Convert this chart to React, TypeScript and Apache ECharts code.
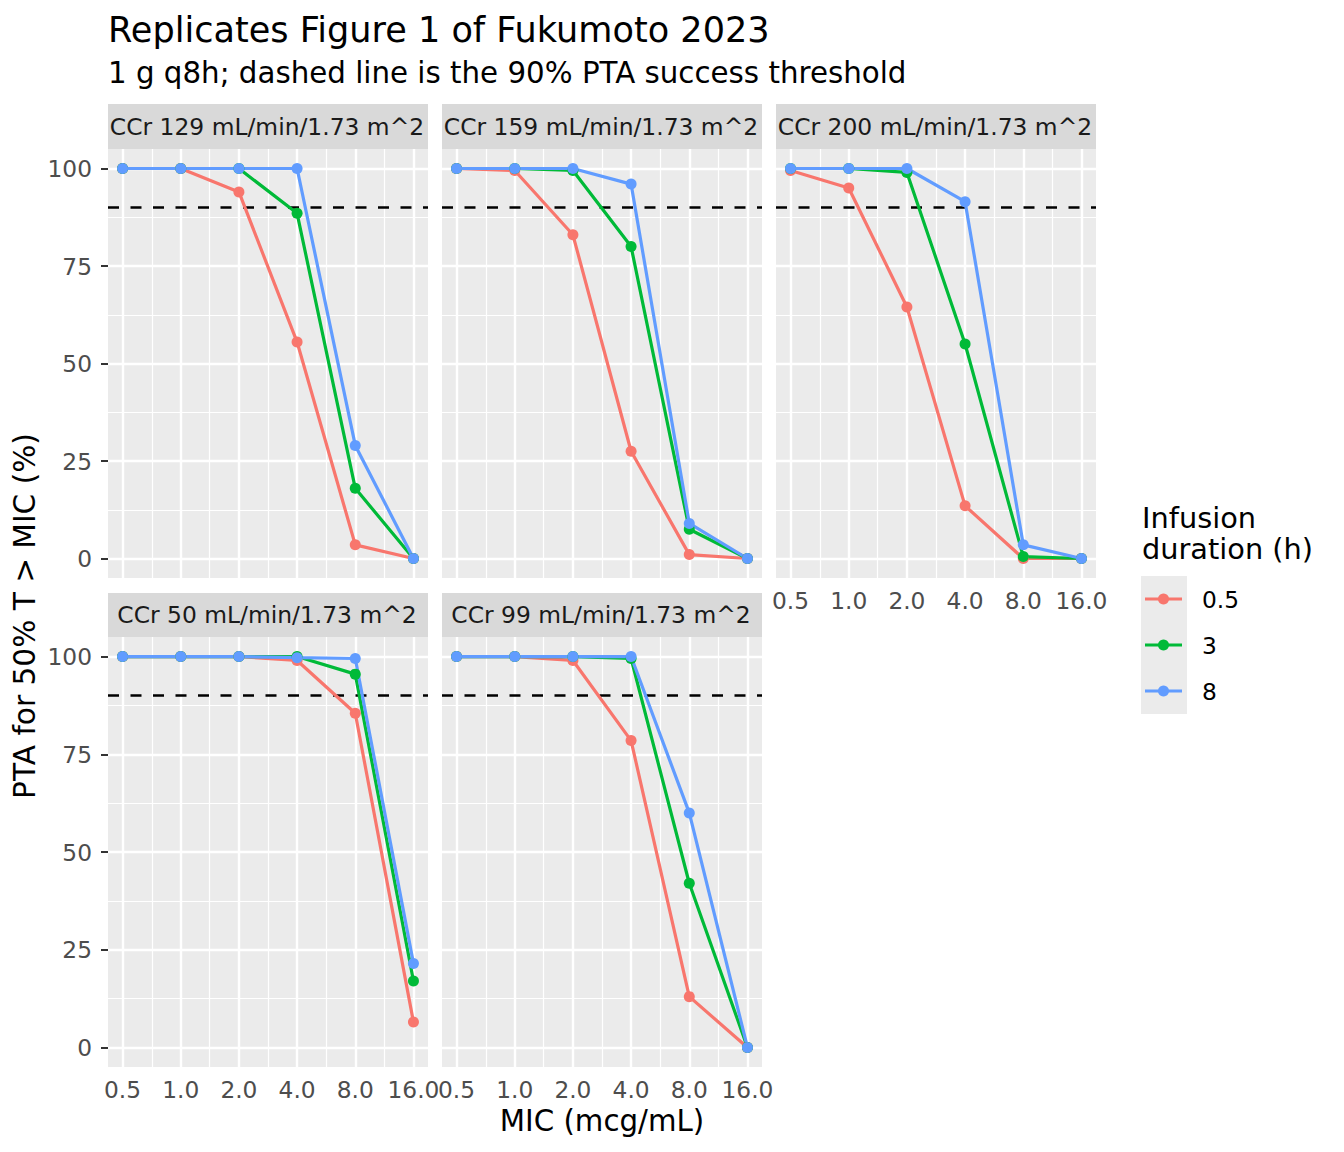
import React, { useEffect, useRef } from "react";
import * as echarts from "echarts";

// ---------- data ----------
const MIC = [0.5, 1, 2, 4, 8, 16];
const DURATIONS = ["0.5", "3", "8"];
const COLORS = ["#F8766D", "#00BA38", "#619CFF"];
const PANEL_LABELS = [
  "CCr 129 mL/min/1.73 m^2",
  "CCr 159 mL/min/1.73 m^2",
  "CCr 200 mL/min/1.73 m^2",
  "CCr 50 mL/min/1.73 m^2",
  "CCr 99 mL/min/1.73 m^2",
];

const ccr129_05 = [100, 100, 94, 55.5, 3.5, 0];
const ccr129_3 = [100, 100, 100, 88.5, 18, 0];
const ccr129_8 = [100, 100, 100, 100, 29, 0];

const ccr159_05 = [100, 99.5, 83, 27.5, 1, 0];
const ccr159_3 = [100, 100, 99.5, 80, 7.5, 0];
const ccr159_8 = [100, 100, 100, 96, 9, 0];

const ccr200_05 = [99.5, 95, 64.5, 13.5, 0, 0];
const ccr200_3 = [100, 100, 99, 55, 0.5, 0];
const ccr200_8 = [100, 100, 100, 91.5, 3.5, 0];

const ccr50_05 = [100, 100, 100, 99, 85.5, 6.5];
const ccr50_3 = [100, 100, 100, 100, 95.5, 17];
const ccr50_8 = [100, 100, 100, 99.7, 99.5, 21.5];

const ccr99_05 = [100, 100, 99, 78.5, 13, 0];
const ccr99_3 = [100, 100, 100, 99.5, 42, 0];
const ccr99_8 = [100, 100, 100, 100, 60, 0];

const PANEL_VALUES = [
  [ccr129_05, ccr129_3, ccr129_8],
  [ccr159_05, ccr159_3, ccr159_8],
  [ccr200_05, ccr200_3, ccr200_8],
  [ccr50_05, ccr50_3, ccr50_8],
  [ccr99_05, ccr99_3, ccr99_8],
];

const X_TICKS = MIC;
const Y_TICKS = [0, 25, 50, 75, 100];
const THRESHOLD = 90;

const TITLE = "Replicates Figure 1 of Fukumoto 2023";
const SUBTITLE = "1 g q8h; dashed line is the 90% PTA success threshold";
const X_TITLE = "MIC (mcg/mL)";
const Y_TITLE = "PTA for 50% T > MIC (%)";
const LEGEND_TITLE = "Infusion\nduration (h)";

// ---------- layout ----------
const FONT = "DejaVu Sans";
const COLS = [108, 442, 776];
const PANEL_W = 320;
const ROWS = [
  { strip: 104, stripH: 45, top: 149, h: 429 },
  { strip: 593, stripH: 44, top: 637, h: 430 },
];
const HAS_X = [false, false, true, true, true];
const HAS_Y = [true, false, false, true, false];

function buildOption() {
  const grid: any[] = [];
  const xAxis: any[] = [];
  const yAxis: any[] = [];
  const series: any[] = [];
  const graphic: any[] = [];

  const minorX = MIC.slice(0, -1).map((m, j) => Math.sqrt(m * MIC[j + 1]));
  const minorY = Y_TICKS.slice(0, -1).map((v, j) => (v + Y_TICKS[j + 1]) / 2);

  PANEL_LABELS.forEach((label, i) => {
    const r = ROWS[Math.floor(i / 3)];
    const left = COLS[i % 3];
    grid.push({
      left,
      top: r.top,
      width: PANEL_W,
      height: r.h,
      show: true,
      backgroundColor: "#EBEBEB",
      borderWidth: 0,
      containLabel: false,
      outerBoundsMode: "none",
    });
    xAxis.push({
      type: "log",
      logBase: 2,
      gridIndex: i,
      min: MIC[0] / Math.pow(2, 0.25),
      max: MIC[MIC.length - 1] * Math.pow(2, 0.25),
      axisLine: { show: false },
      axisTick: {
        show: HAS_X[i],
        customValues: X_TICKS,
        length: 7,
        lineStyle: { color: "#333333", width: 2 },
      },
      axisLabel: {
        show: HAS_X[i],
        customValues: X_TICKS,
        formatter: (v: number) => Number(v).toFixed(1),
        color: "#4D4D4D",
        fontSize: 23.3,
        fontFamily: FONT,
        margin: 11,
        hideOverlap: false,
      },
      splitLine: { show: false },
      minorTick: { show: false },
      minorSplitLine: { show: false },
    });
    yAxis.push({
      type: "value",
      gridIndex: i,
      min: -5,
      max: 105,
      axisLine: { show: false },
      axisTick: {
        show: HAS_Y[i],
        customValues: Y_TICKS,
        length: 7,
        lineStyle: { color: "#333333", width: 2 },
      },
      axisLabel: {
        show: HAS_Y[i],
        customValues: Y_TICKS,
        color: "#4D4D4D",
        fontSize: 23.3,
        fontFamily: FONT,
        margin: 16,
      },
      splitLine: { show: false },
    });

    const white = (w: number) => ({ color: "#FFFFFF", width: w, type: "solid" });
    series.push({
      type: "line",
      xAxisIndex: i,
      yAxisIndex: i,
      data: [],
      silent: true,
      z: 1,
      markLine: {
        silent: true,
        z: 1,
        symbol: ["none", "none"],
        label: { show: false },
        emphasis: { disabled: true },
        data: [
          ...minorX.map((v) => ({ xAxis: v, lineStyle: white(1.2) })),
          ...minorY.map((v) => ({ yAxis: v, lineStyle: white(1.2) })),
          ...X_TICKS.map((v) => ({ xAxis: v, lineStyle: white(2.4) })),
          ...Y_TICKS.map((v) => ({ yAxis: v, lineStyle: white(2.4) })),
          { yAxis: THRESHOLD, lineStyle: { color: "#000000", width: 2.6, type: [11, 11.5] } },
        ],
      },
    });

    PANEL_VALUES[i].forEach((vals, k) => {
      series.push({
        type: "line",
        name: DURATIONS[k],
        xAxisIndex: i,
        yAxisIndex: i,
        data: MIC.map((m, j) => [m, vals[j]]),
        symbol: "circle",
        symbolSize: 11,
        showSymbol: true,
        lineStyle: { color: COLORS[k], width: 3.2 },
        itemStyle: { color: COLORS[k] },
        z: 10,
        silent: true,
        emphasis: { disabled: true },
      });
    });

    // strip
    graphic.push({
      type: "rect",
      shape: { x: left, y: r.strip, width: PANEL_W, height: r.stripH },
      style: { fill: "#D9D9D9" },
      silent: true,
    });
    graphic.push({
      type: "text",
      x: left + PANEL_W / 2 - 1,
      y: r.strip + r.stripH / 2,
      style: {
        text: label,
        fontSize: 23.4,
        fontFamily: FONT,
        fill: "#1A1A1A",
        align: "center",
        verticalAlign: "middle",
      },
      silent: true,
    });
  });

  // titles
  graphic.push({
    type: "text",
    x: 108,
    y: 29,
    style: { text: TITLE, fontSize: 35.1, fontFamily: FONT, fill: "#000", align: "left", verticalAlign: "middle" },
  });
  graphic.push({
    type: "text",
    x: 108,
    y: 73,
    style: { text: SUBTITLE, fontSize: 29.3, fontFamily: FONT, fill: "#000", align: "left", verticalAlign: "middle" },
  });
  graphic.push({
    type: "text",
    x: 602,
    y: 1121,
    style: { text: X_TITLE, fontSize: 29.3, fontFamily: FONT, fill: "#000", align: "center", verticalAlign: "middle" },
  });
  graphic.push({
    type: "text",
    x: 25,
    y: 616,
    rotation: Math.PI / 2,
    style: { text: Y_TITLE, fontSize: 29.6, fontFamily: FONT, fill: "#000", align: "center", verticalAlign: "middle" },
  });

  // legend
  graphic.push({
    type: "text",
    x: 1142,
    y: 533,
    style: {
      text: LEGEND_TITLE,
      fontSize: 28.8,
      lineHeight: 31,
      fontFamily: FONT,
      fill: "#000",
      align: "left",
      verticalAlign: "middle",
    },
  });
  graphic.push({
    type: "rect",
    shape: { x: 1141, y: 576, width: 46, height: 138 },
    style: { fill: "#EBEBEB" },
  });
  const legendY = [599, 645, 691];
  DURATIONS.forEach((d, k) => {
    graphic.push({
      type: "line",
      shape: { x1: 1145, y1: legendY[k], x2: 1182, y2: legendY[k] },
      style: { stroke: COLORS[k], lineWidth: 3.2 },
    });
    graphic.push({
      type: "circle",
      shape: { cx: 1163.5, cy: legendY[k], r: 5.5 },
      style: { fill: COLORS[k] },
    });
    graphic.push({
      type: "text",
      x: 1202,
      y: legendY[k],
      style: { text: d, fontSize: 23.3, fontFamily: FONT, fill: "#000", align: "left", verticalAlign: "middle" },
    });
  });

  return {
    animation: false,
    backgroundColor: "#FFFFFF",
    textStyle: { fontFamily: FONT },
    grid,
    xAxis,
    yAxis,
    series,
    graphic,
  };
}

export default function App() {
  const ref = useRef<HTMLDivElement>(null);
  useEffect(() => {
    if (!ref.current) return;
    const chart = echarts.init(ref.current, undefined, { renderer: "svg" });
    chart.setOption(buildOption() as any);
    return () => chart.dispose();
  }, []);
  return (
    <div
      ref={ref}
      style={{ position: "absolute", left: 0, top: 0, width: 1344, height: 1152 }}
    />
  );
}
